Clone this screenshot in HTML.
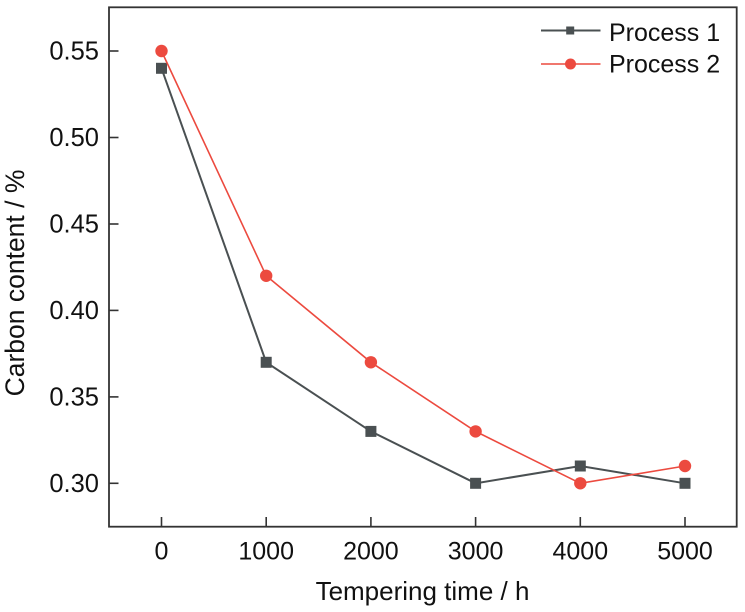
<!DOCTYPE html>
<html>
<head>
<meta charset="utf-8">
<style>
html,body{margin:0;padding:0;background:#fff;}
svg{display:block;}
text{font-family:"Liberation Sans",Arial,sans-serif;fill:#111;}
</style>
</head>
<body>
<svg width="745" height="612" viewBox="0 0 745 612" xmlns="http://www.w3.org/2000/svg">
  <rect x="0" y="0" width="745" height="612" fill="#fff"/>
  <!-- frame -->
  <rect x="109" y="7.3" width="627.7" height="519.4" fill="none" stroke="#333" stroke-width="1.8"/>
  <!-- y ticks -->
  <g stroke="#333" stroke-width="1.6">
    <line x1="109" y1="51" x2="118.5" y2="51"/>
    <line x1="109" y1="137.5" x2="118.5" y2="137.5"/>
    <line x1="109" y1="224" x2="118.5" y2="224"/>
    <line x1="109" y1="310.4" x2="118.5" y2="310.4"/>
    <line x1="109" y1="396.9" x2="118.5" y2="396.9"/>
    <line x1="109" y1="483.3" x2="118.5" y2="483.3"/>
    <!-- x ticks -->
    <line x1="161.5" y1="526.7" x2="161.5" y2="517"/>
    <line x1="266.2" y1="526.7" x2="266.2" y2="517"/>
    <line x1="370.9" y1="526.7" x2="370.9" y2="517"/>
    <line x1="475.6" y1="526.7" x2="475.6" y2="517"/>
    <line x1="580.3" y1="526.7" x2="580.3" y2="517"/>
    <line x1="685" y1="526.7" x2="685" y2="517"/>
  </g>
  <!-- y tick labels -->
  <g font-size="25.5" text-anchor="end">
    <text x="99" y="59.5">0.55</text>
    <text x="99" y="146">0.50</text>
    <text x="99" y="232.5">0.45</text>
    <text x="99" y="319">0.40</text>
    <text x="99" y="405.5">0.35</text>
    <text x="99" y="492">0.30</text>
  </g>
  <!-- x tick labels -->
  <g font-size="25" text-anchor="middle">
    <text x="161.5" y="559.5">0</text>
    <text x="266.2" y="559.5">1000</text>
    <text x="370.9" y="559.5">2000</text>
    <text x="475.6" y="559.5">3000</text>
    <text x="580.3" y="559.5">4000</text>
    <text x="685" y="559.5">5000</text>
  </g>
  <!-- axis titles -->
  <text x="422.5" y="600" font-size="26" text-anchor="middle">Tempering time / h</text>
  <text transform="translate(24,283) rotate(-90)" x="0" y="0" font-size="26.5" text-anchor="middle">Carbon content / %</text>

  <!-- Process 1 -->
  <polyline points="161.5,68.3 266.2,362.3 370.9,431.4 475.6,483.3 580.3,466 685,483.3" fill="none" stroke="#4a5052" stroke-width="2"/>
  <g fill="#4a5052">
    <rect x="156" y="62.8" width="11" height="11"/>
    <rect x="260.7" y="356.8" width="11" height="11"/>
    <rect x="365.4" y="425.9" width="11" height="11"/>
    <rect x="470.1" y="477.8" width="11" height="11"/>
    <rect x="574.8" y="460.5" width="11" height="11"/>
    <rect x="679.5" y="477.8" width="11" height="11"/>
  </g>
  <!-- Process 2 -->
  <polyline points="161.5,51 266.2,275.8 370.9,362.3 475.6,431.4 580.3,483.3 685,466" fill="none" stroke="#ec4a3f" stroke-width="1.6"/>
  <g fill="#ec4a3f">
    <circle cx="161.5" cy="51" r="6.2"/>
    <circle cx="266.2" cy="275.8" r="6.2"/>
    <circle cx="370.9" cy="362.3" r="6.2"/>
    <circle cx="475.6" cy="431.4" r="6.2"/>
    <circle cx="580.3" cy="483.3" r="6.2"/>
    <circle cx="685" cy="466" r="6.2"/>
  </g>

  <!-- legend -->
  <line x1="541" y1="30.5" x2="600.5" y2="30.5" stroke="#4a5052" stroke-width="2"/>
  <rect x="566.2" y="26.5" width="8" height="8" fill="#4a5052"/>
  <text x="609" y="41" font-size="25">Process 1</text>
  <line x1="541" y1="64" x2="600.5" y2="64" stroke="#ec4a3f" stroke-width="1.6"/>
  <circle cx="570.5" cy="64" r="5.5" fill="#ec4a3f"/>
  <text x="609" y="72.3" font-size="25">Process 2</text>
</svg>
</body>
</html>
